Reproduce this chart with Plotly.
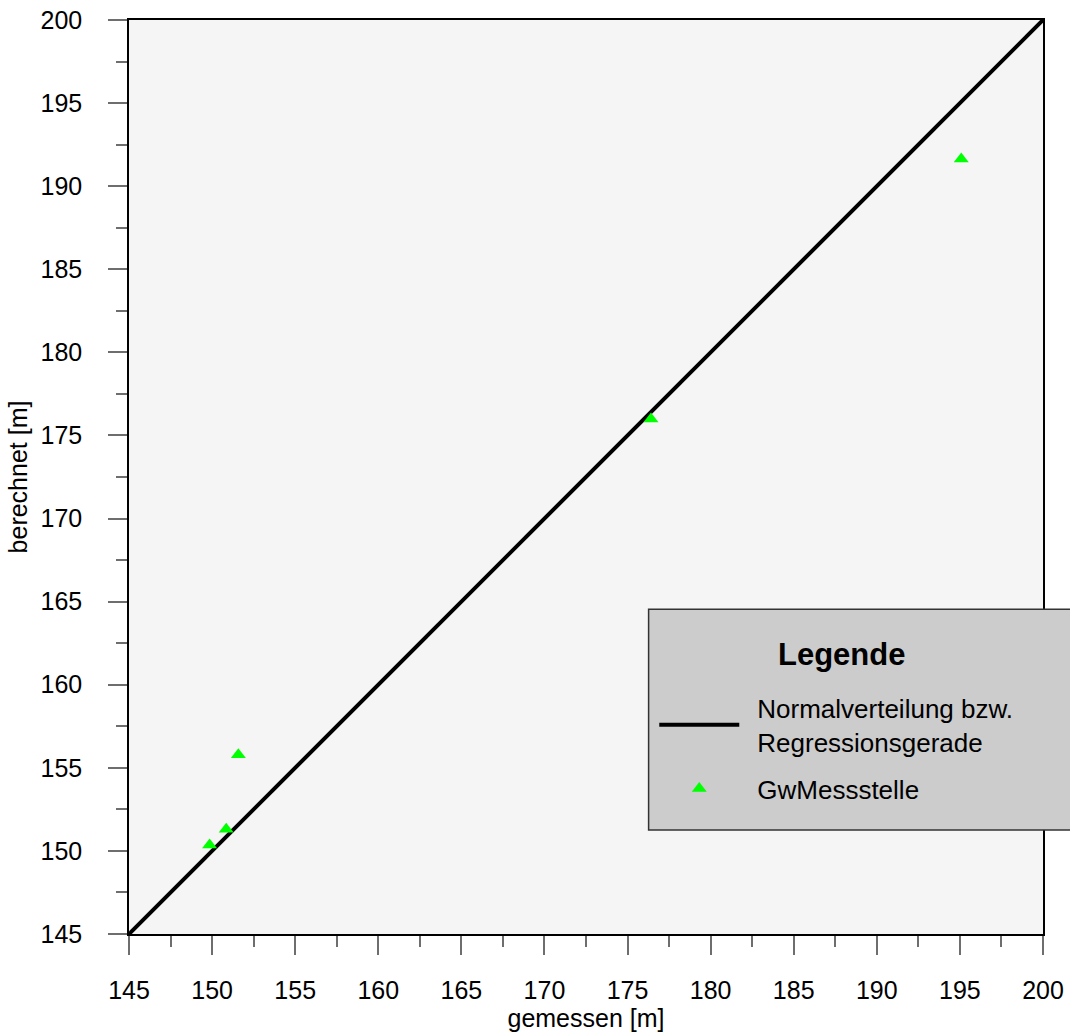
import plotly.graph_objects as go

# data
gemessen = [149.85, 150.85, 151.58, 176.41, 195.08]
berechnet = [150.36, 151.31, 155.78, 175.99, 191.64]
line_x = [145, 200]
line_y = [145, 200]
tick_vals = [145, 150, 155, 160, 165, 170, 175, 180, 185, 190, 195, 200]
tick_text = [str(v) for v in tick_vals]

FONT = "Liberation Sans, Arial, sans-serif"
SP = "\u2002"

fig = go.Figure()
fig.add_trace(go.Scatter(
    x=line_x, y=line_y, mode="lines",
    line=dict(color="black", width=4),
    name=SP + "Normalverteilung bzw.<br>" + SP + "Regressionsgerade",
    legendgroup="a",
))
fig.add_trace(go.Scatter(
    x=gemessen, y=berechnet, mode="markers",
    marker=dict(symbol="triangle-up", color="#00ff00", size=13, line=dict(width=0)),
    name=SP + "GwMessstelle",
    legendgroup="b",
))

axis_common = dict(
    range=[145, 200], tickmode="array", tickvals=tick_vals, ticktext=tick_text,
    ticks="outside", ticklen=19, tickwidth=2, tickcolor="#6e6e6e",
    showline=True, linecolor="black", linewidth=1.5, mirror=True,
    showgrid=False, zeroline=False, automargin=False,
    tickfont=dict(family=FONT, size=25, color="black"),
    minor=dict(dtick=2.5, tick0=145, ticks="outside", ticklen=11, tickwidth=2, tickcolor="#6e6e6e", showgrid=False),
)

fig.update_xaxes(**axis_common, title=dict(text="gemessen [m]", font=dict(family=FONT, size=25, color="black"), standoff=5),
                 ticklabelstandoff=14)
fig.update_yaxes(**axis_common, title=dict(text="berechnet [m]", font=dict(family=FONT, size=25, color="black"), standoff=6),
                 ticklabelstandoff=21)

fig.add_shape(type="rect", xref="paper", yref="paper", x0=0.5685, x1=1.05, y0=0.1138, y1=0.3554,
              fillcolor="#cccccc", line=dict(color="#333333", width=1.5), layer="above")
fig.add_annotation(text="<b>Legende</b>", xref="paper", yref="paper", x=0.779, y=0.306,
                   xanchor="center", yanchor="middle", showarrow=False,
                   font=dict(family=FONT, size=31, color="black"))

fig.update_layout(
    width=1070, height=1032,
    margin=dict(l=129, r=27, t=20, b=98, autoexpand=False),
    paper_bgcolor="white", plot_bgcolor="#f5f5f5",
    font=dict(family=FONT, size=25, color="black"),
    showlegend=True,
    legend=dict(
        x=0.5747, y=0.273, xanchor="left", yanchor="top",
        bgcolor="rgba(0,0,0,0)", borderwidth=0,
        font=dict(family=FONT, size=26, color="black"),
        itemwidth=80, tracegroupgap=10, valign="middle",
    ),
)

fig.write_html("out.html", config={"displayModeBar": False},
               post_script="document.body.style.margin='0px';document.body.style.overflow='hidden';")
